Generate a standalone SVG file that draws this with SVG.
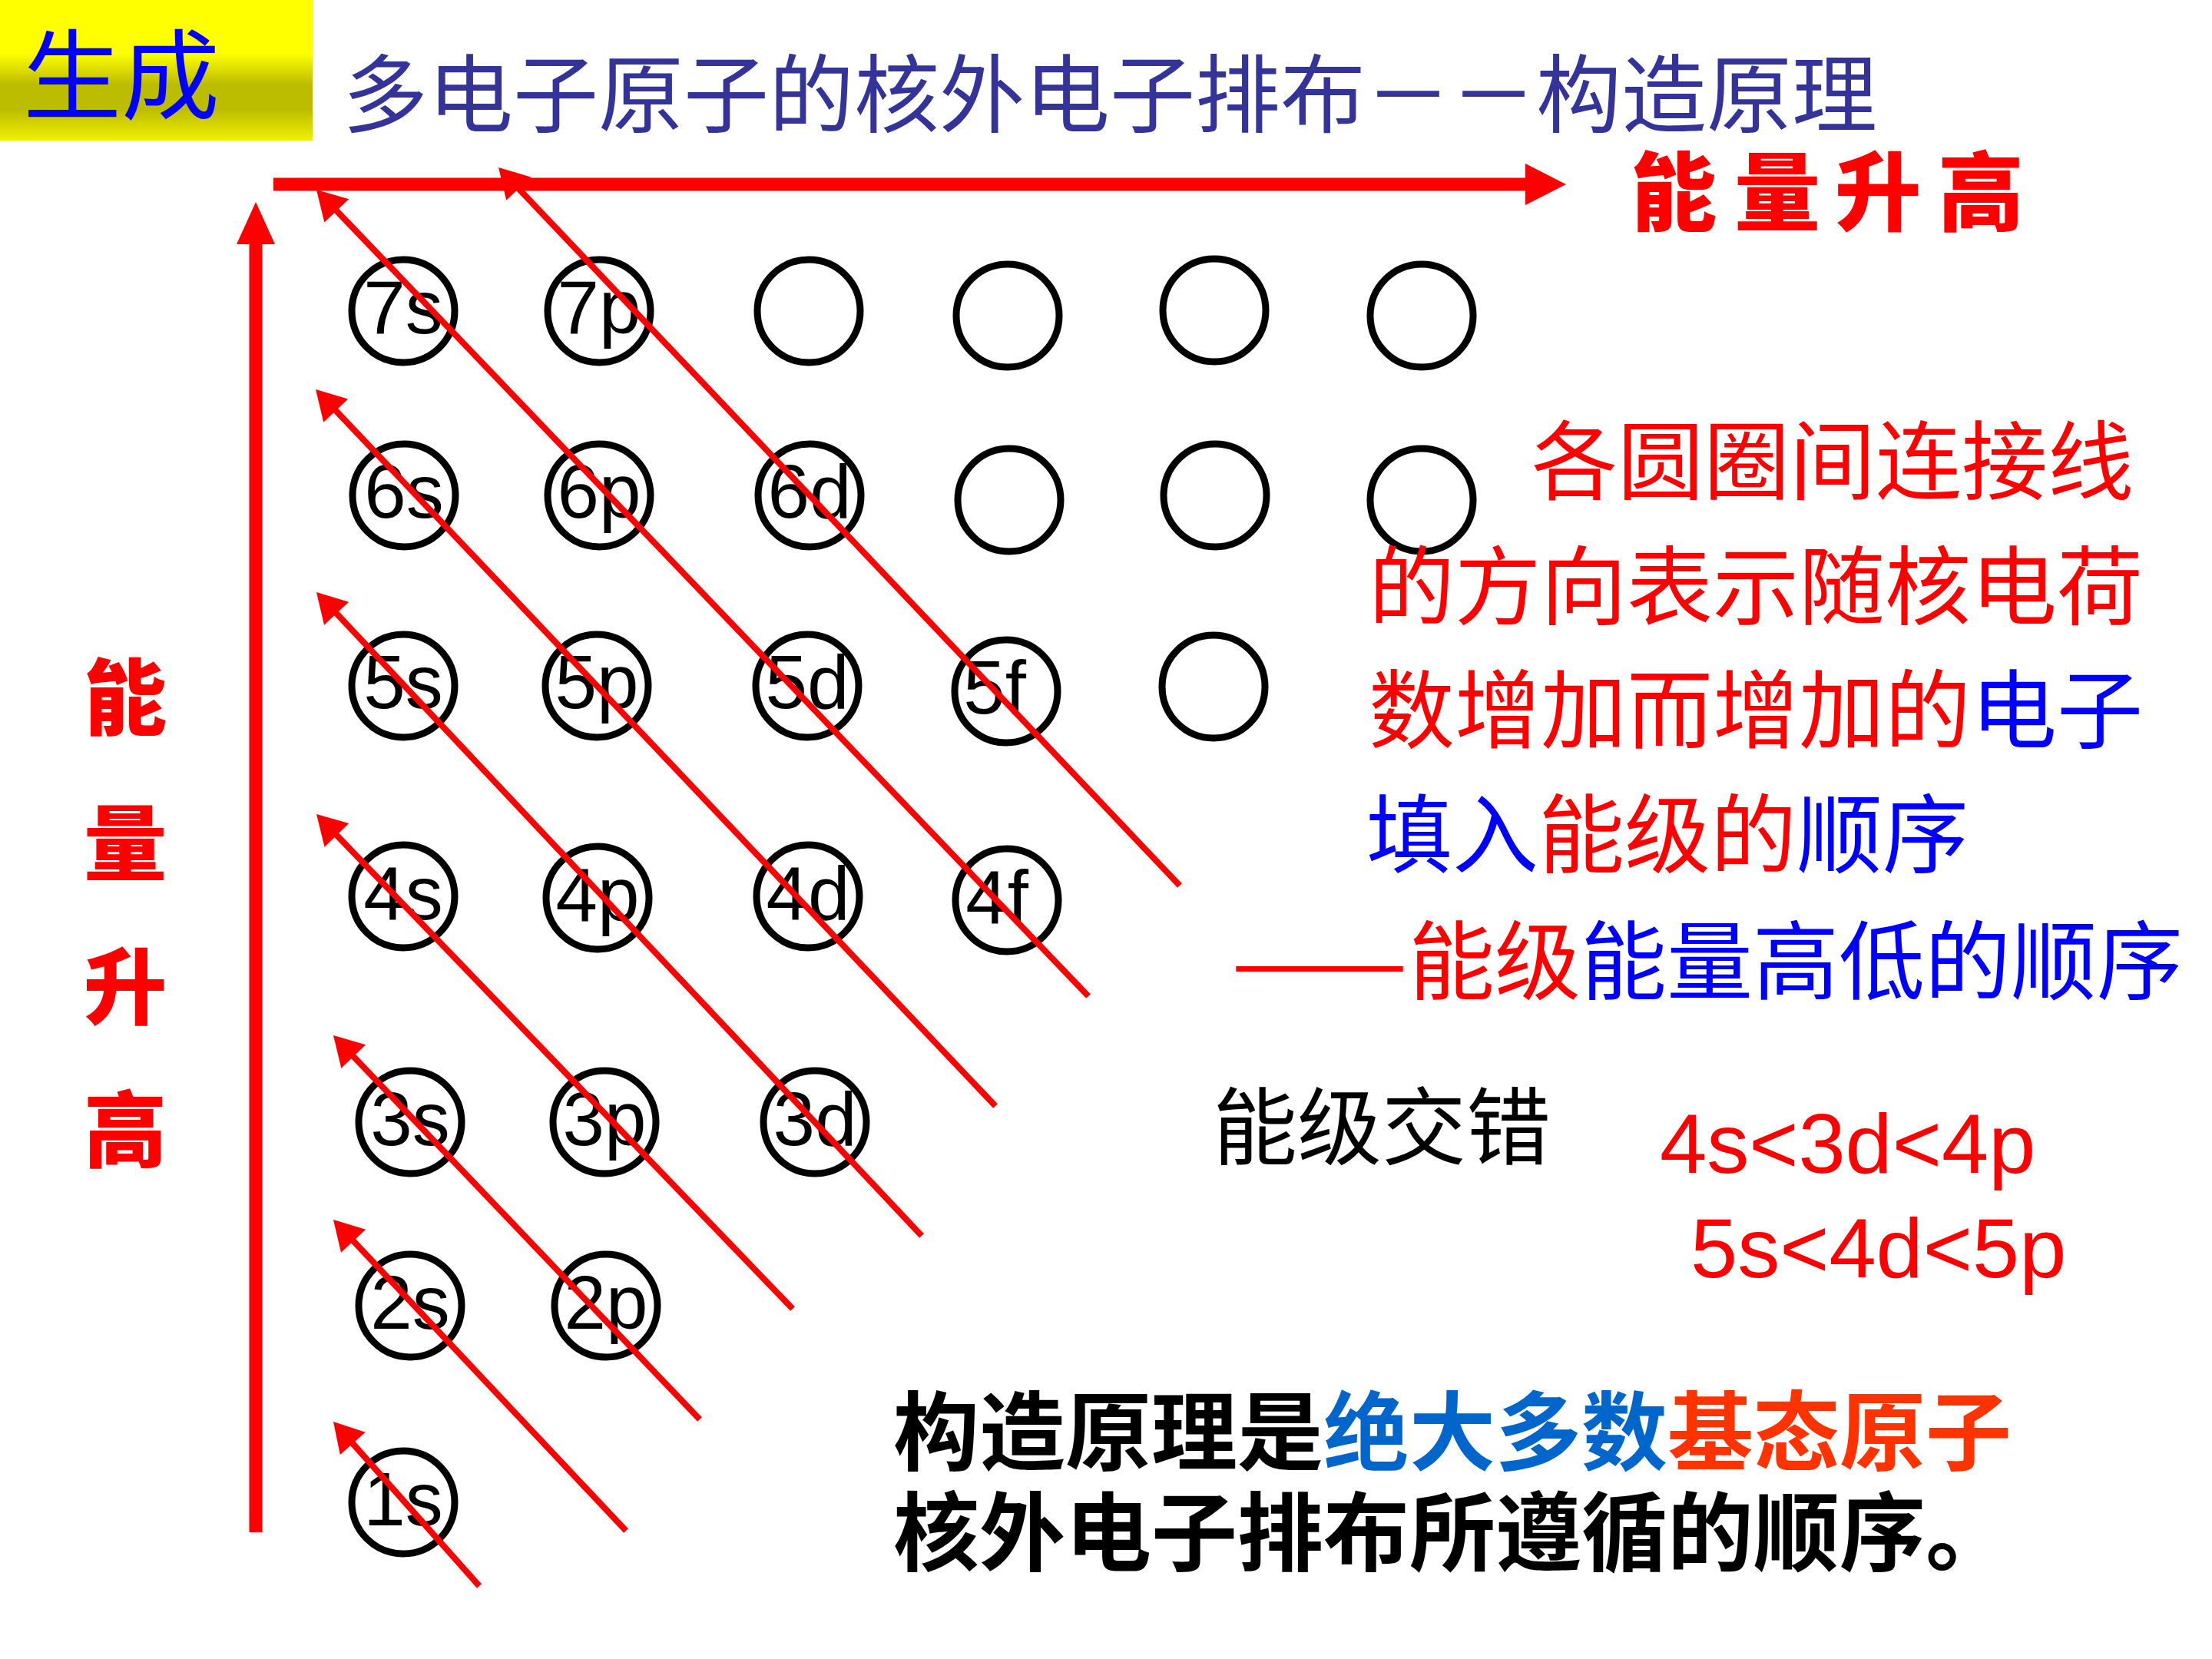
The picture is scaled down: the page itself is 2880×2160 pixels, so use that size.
<svg xmlns="http://www.w3.org/2000/svg" width="2880" height="2160" viewBox="0 0 2880 2160">
<style>
.c{fill:none;stroke:#000;stroke-width:9}
.lbl{font-family:"Liberation Sans",Arial,sans-serif;font-size:98px;text-anchor:middle;fill:#000}
.cjk{font-family:"Noto Sans CJK SC","Noto Sans CJK JP",sans-serif}
.arr{stroke:#FF0000;stroke-width:8;fill:none;marker-end:url(#ah)}
.axis{stroke:#FF0000;stroke-width:17;fill:none}
.red{fill:#FF0000}
.blue{fill:#0000FF}
</style>
<defs>
<linearGradient id="yg" x1="0" y1="0" x2="0" y2="1">
<stop offset="0" stop-color="#FFFF00"/>
<stop offset="0.38" stop-color="#FFFF00"/>
<stop offset="0.6" stop-color="#BDBD00"/>
<stop offset="0.78" stop-color="#BDBD00"/>
<stop offset="1" stop-color="#F0F000"/>
</linearGradient>
<marker id="ah" markerUnits="userSpaceOnUse" markerWidth="38" markerHeight="44" refX="18" refY="22" orient="auto" viewBox="0 0 38 44" overflow="visible">
<path d="M0,0 L38,22 L0,44 Z" fill="#FF0000"/>
</marker>
</defs>
<rect width="2880" height="2160" fill="#FFFFFF"/>

<g id="header">
<rect x="0" y="0" width="407" height="183" fill="url(#yg)"/>
<text class="cjk" x="30" y="146" font-size="128" fill="#0000FF">生成</text>
<text class="cjk" x="446" y="164" font-size="111" fill="#333399">多电子原子的核外电子排布－－构造原理</text>
</g>

<g id="axes">
<line class="axis" x1="356" y1="240" x2="1988" y2="240"/>
<polygon points="1986,213 2039,240 1986,267" fill="#FF0000"/>
<line class="axis" x1="333" y1="1995" x2="333" y2="316"/>
<polygon points="308,318 333,263 358,318" fill="#FF0000"/>
<text class="cjk red" x="2179 2314 2445 2579" y="292" font-size="112" font-weight="900" text-anchor="middle">能量升高</text>
<text class="cjk red" x="163" y="948" font-size="108" font-weight="900" text-anchor="middle">能</text>
<text class="cjk red" x="163" y="1138" font-size="108" font-weight="900" text-anchor="middle">量</text>
<text class="cjk red" x="163" y="1325" font-size="108" font-weight="900" text-anchor="middle">升</text>
<text class="cjk red" x="163" y="1511" font-size="108" font-weight="900" text-anchor="middle">高</text>
</g>

<g id="n7s"><circle class="c" cx="525" cy="405" r="67"/><text class="lbl" x="525" y="434">7s</text></g>
<g id="n7p"><circle class="c" cx="780" cy="405" r="67"/><text class="lbl" x="780" y="434">7p</text></g>
<g id="n7d"><circle class="c" cx="1053" cy="405" r="67"/></g>
<g id="n7f"><circle class="c" cx="1312" cy="411" r="67"/></g>
<g id="n7g"><circle class="c" cx="1581" cy="404" r="67"/></g>
<g id="n7h"><circle class="c" cx="1851" cy="411" r="67"/></g>

<g id="n6s"><circle class="c" cx="526" cy="645" r="67"/><text class="lbl" x="526" y="674">6s</text></g>
<g id="n6p"><circle class="c" cx="780" cy="645" r="67"/><text class="lbl" x="780" y="674">6p</text></g>
<g id="n6d"><circle class="c" cx="1054" cy="645" r="67"/><text class="lbl" x="1054" y="674">6d</text></g>
<g id="n6f"><circle class="c" cx="1314" cy="651" r="67"/></g>
<g id="n6g"><circle class="c" cx="1582" cy="645" r="67"/></g>
<g id="n6h"><circle class="c" cx="1851" cy="651" r="67"/></g>

<g id="n5s"><circle class="c" cx="525" cy="893" r="67"/><text class="lbl" x="525" y="922">5s</text></g>
<g id="n5p"><circle class="c" cx="777" cy="893" r="67"/><text class="lbl" x="777" y="922">5p</text></g>
<g id="n5d"><circle class="c" cx="1051" cy="893" r="67"/><text class="lbl" x="1051" y="922">5d</text></g>
<g id="n5f"><circle class="c" cx="1310" cy="900" r="67"/><text class="lbl" x="1295" y="929">5f</text></g>
<g id="n5g"><circle class="c" cx="1580" cy="894" r="67"/></g>

<g id="n4s"><circle class="c" cx="525" cy="1167" r="67"/><text class="lbl" x="525" y="1197">4s</text></g>
<g id="n4p"><circle class="c" cx="778" cy="1169" r="67"/><text class="lbl" x="778" y="1199">4p</text></g>
<g id="n4d"><circle class="c" cx="1052" cy="1167" r="67"/><text class="lbl" x="1052" y="1197">4d</text></g>
<g id="n4f"><circle class="c" cx="1311" cy="1172" r="67"/><text class="lbl" x="1298" y="1202">4f</text></g>

<g id="n3s"><circle class="c" cx="534" cy="1461" r="67"/><text class="lbl" x="534" y="1491">3s</text></g>
<g id="n3p"><circle class="c" cx="787" cy="1461" r="67"/><text class="lbl" x="787" y="1491">3p</text></g>
<g id="n3d"><circle class="c" cx="1061" cy="1461" r="67"/><text class="lbl" x="1061" y="1491">3d</text></g>

<g id="n2s"><circle class="c" cx="534" cy="1700" r="67"/><text class="lbl" x="534" y="1730">2s</text></g>
<g id="n2p"><circle class="c" cx="789" cy="1700" r="67"/><text class="lbl" x="789" y="1730">2p</text></g>

<g id="n1s"><circle class="c" cx="525" cy="1956" r="67"/><text class="lbl" x="525" y="1986">1s</text></g>

<g id="connectors">
<line class="arr" x1="624" y1="2065" x2="447.3" y2="1866"/>
<line class="arr" x1="815" y1="1993" x2="447.7" y2="1602.6"/>
<line class="arr" x1="911" y1="1848" x2="447.8" y2="1362.5"/>
<line class="arr" x1="1032" y1="1704" x2="425.9" y2="1074.4"/>
<line class="arr" x1="1200" y1="1609" x2="425.7" y2="785.6"/>
<line class="arr" x1="1296" y1="1440" x2="424.8" y2="521.5"/>
<line class="arr" x1="1417" y1="1297" x2="425.8" y2="261.4"/>
<line class="arr" x1="1536" y1="1153" x2="662.8" y2="232.5"/>
</g>

<g id="explanation" class="cjk" font-size="112">
<text x="1994" y="642" class="red">各圆圈间连接线</text>
<text x="1782" y="805" class="red">的方向表示随核电荷</text>
<text x="1782" y="966"><tspan class="red">数增加而增加的</tspan><tspan class="blue">电子</tspan></text>
<text x="1779" y="1128"><tspan class="blue">填入</tspan><tspan class="red">能级的</tspan><tspan class="blue">顺序</tspan></text>
<text x="1603" y="1293" class="red" textLength="230" lengthAdjust="spacingAndGlyphs">——</text>
<text x="1834" y="1293"><tspan class="red">能级</tspan><tspan class="blue">能量高低的顺序</tspan></text>
</g>

<g id="crossover">
<text class="cjk" x="1579" y="1508" font-size="110" fill="#000">能级交错</text>
<text x="2161" y="1527" font-family="Liberation Sans, Arial, sans-serif" font-size="110" fill="#FF0000">4s&lt;3d&lt;4p</text>
<text x="2201" y="1663" font-family="Liberation Sans, Arial, sans-serif" font-size="110" fill="#FF0000">5s&lt;4d&lt;5p</text>
</g>

<g id="summary" class="cjk" font-size="112" font-weight="bold">
<text x="1163" y="1906"><tspan fill="#000">构造原理是</tspan><tspan fill="#0066CC">绝大多数</tspan><tspan fill="#FF3300">基态原子</tspan></text>
<text x="1163" y="2037" fill="#000">核外电子排布所遵循的顺序。</text>
</g>
</svg>
